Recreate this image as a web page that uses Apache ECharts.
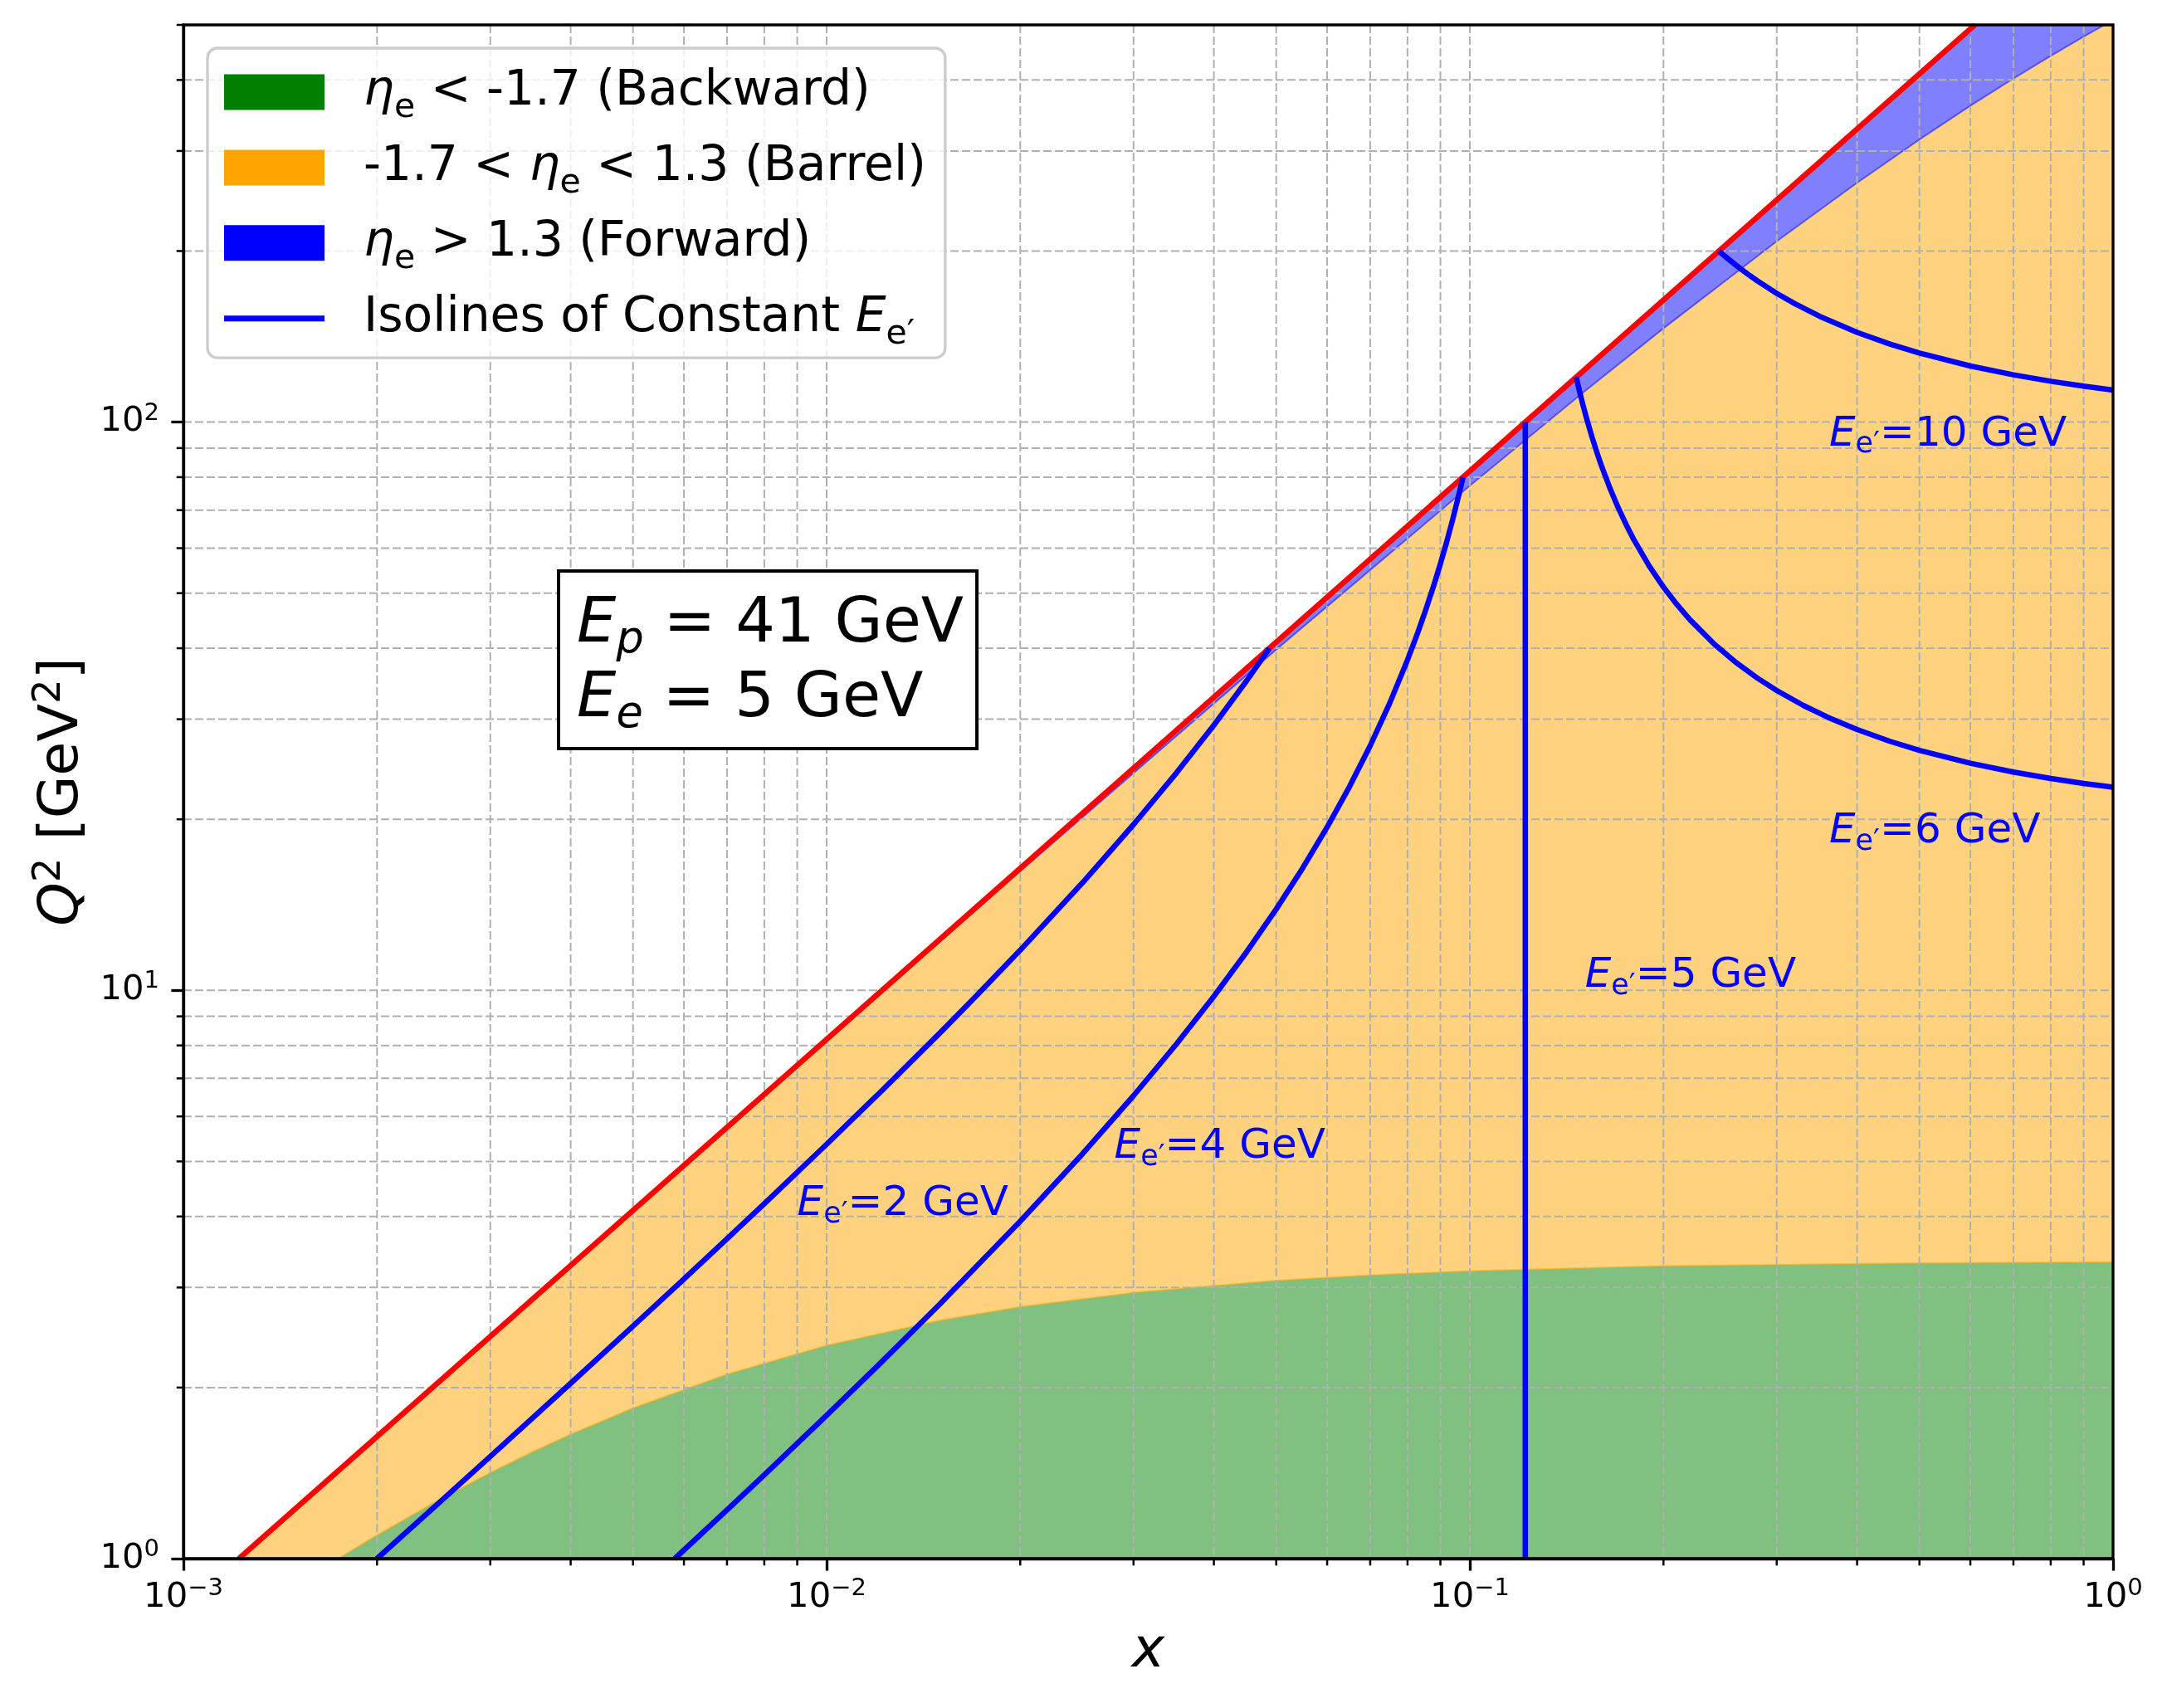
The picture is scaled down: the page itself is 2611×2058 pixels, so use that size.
<!DOCTYPE html>
<html>
<head>
<meta charset="utf-8">
<script src="https://cdn.jsdelivr.net/npm/echarts@6/dist/echarts.min.js"></script>
<style>
html, body { margin: 0; padding: 0; background: #fff; }
#main { width: 2611px; height: 2058px; }
</style>
</head>
<body>
<div id="main"></div>
<script>
var FONT = 'DejaVu Sans';

// axis ranges and tick labels
var xRange = [0.001, 1];
var yRange = [1, 500];
var xTicks = [0.001, 0.01, 0.1, 1];
var xTickLabels = ['−3', '−2', '−1', '0'];
var yTicks = [1, 10, 100];
var yTickLabels = ['0', '1', '2'];

// kinematic limit y = 1 (red line)
var yOneLine = [[0.0012195, 1], [0.60976, 500]];

// eta = -1.7 boundary (backward / barrel)
var etaBackEdge = [[0.001741, 1.0], [0.002, 1.0996], [0.0025, 1.2699], [0.003, 1.4161], [0.0035, 1.543],
  [0.004, 1.6542], [0.005, 1.8398], [0.007, 2.1104], [0.01, 2.372], [0.015, 2.625], [0.02, 2.773],
  [0.03, 2.9386], [0.05, 3.086], [0.07, 3.1538], [0.1, 3.2068], [0.2, 3.2707], [0.5, 3.3103], [1.0, 3.3239]];

// eta = 1.3 boundary (barrel / forward)
var etaFwdEdge = [[0.00122, 1.0], [0.002, 1.638], [0.005, 4.088], [0.01, 8.150], [0.02, 16.20],
  [0.05, 39.79], [0.1, 77.29], [0.15, 112.7], [0.2, 146.2], [0.3, 208.0], [0.4, 263.7],
  [0.5, 314.3], [0.6, 360.3], [0.7, 402.4], [0.8, 441.1], [0.9, 476.7], [0.97, 500]];

// isolines of constant scattered electron energy
var iso2 = [[0.0019992, 1], [0.0025, 1.2557], [0.003, 1.513], [0.004, 2.0347], [0.005, 2.565], [0.006, 3.1048],
  [0.007, 3.654], [0.008, 4.2123], [0.01, 5.360], [0.012, 6.5484], [0.015, 8.415], [0.017, 9.7188],
  [0.02, 11.77], [0.025, 15.47], [0.03, 19.58], [0.035, 24.15], [0.04, 29.29], [0.045, 35.09],
  [0.0475, 38.28], [0.04878, 40.0]];
var iso4 = [[0.005807, 1], [0.007, 1.2179], [0.008, 1.404], [0.01, 1.787], [0.012, 2.1828], [0.015, 2.805],
  [0.02, 3.923], [0.025, 5.157], [0.03, 6.525], [0.035, 8.050], [0.04, 9.762], [0.045, 11.696],
  [0.05, 13.90], [0.055, 16.43], [0.06, 19.37], [0.065, 22.83], [0.07, 26.95], [0.075, 31.95],
  [0.08, 38.14], [0.083, 42.62], [0.085, 46.01], [0.088, 51.84], [0.09, 56.34], [0.092, 61.43],
  [0.094, 67.26], [0.096, 73.98], [0.097, 77.75], [0.09756, 80.0]];
var iso5 = [[0.12195, 1], [0.12195, 100]];
var iso6 = [[0.14634, 120], [0.1465, 119.35], [0.147, 117.37], [0.148, 113.63], [0.149, 110.17],
  [0.15, 106.96], [0.152, 101.17], [0.155, 93.80], [0.158, 87.66], [0.16, 84.10], [0.165, 76.66],
  [0.17, 70.76], [0.175, 65.98], [0.18, 62.02], [0.19, 55.84], [0.2, 51.25], [0.21, 47.70],
  [0.22, 44.88], [0.24, 40.66], [0.26, 37.67], [0.28, 35.43], [0.3, 33.70], [0.33, 31.72],
  [0.36, 30.25], [0.4, 28.77], [0.45, 27.43], [0.5, 26.45], [0.6, 25.10], [0.7, 24.22],
  [0.8, 23.60], [0.9, 23.13], [1.0, 22.78]];
var iso10 = [[0.2439, 200], [0.245, 199.11], [0.25, 195.24], [0.26, 188.34], [0.27, 182.37],
  [0.28, 177.16], [0.3, 168.49], [0.32, 161.58], [0.35, 153.48], [0.4, 143.86], [0.45, 137.17],
  [0.5, 132.26], [0.6, 125.51], [0.7, 121.10], [0.8, 117.99], [0.9, 115.67], [1.0, 113.89]];
var isoLines = [iso2, iso4, iso5, iso6, iso10];

// labels of the isolines (left / middle anchor)
var isoLabelText = ['2', '4', '5', '6', '10'];
var isoLabelPos = [[0.009, 4.2], [0.028, 5.3], [0.151, 10.6], [0.362, 19], [0.362, 95]];

// legend
var regionNames = ['back', 'barrel', 'fwd'];
var isoName = 'iso';
var legendText = {
  back: '{i|η}{s|e}{n| < -1.7 (Backward)}',
  barrel: '{n|-1.7 < }{i|η}{s|e}{n| < 1.3 (Barrel)}',
  fwd: '{i|η}{s|e}{n| > 1.3 (Forward)}',
  iso: '{n|Isolines of Constant }{i|E}{s|e′}'
};
var regionColors = ['green', 'orange', 'blue'];
var regionFills = ['#80c080', '#ffd280', '#8080ff'];

// grid lines at every 1..9 x decade
function gridValues(range) {
  var out = [];
  for (var d = range[0]; d < range[1] * 0.99; d *= 10) {
    for (var m = 1; m <= 9; m++) {
      var v = m * d;
      if (m === 1 && Math.abs(v - range[0]) < 1e-12) continue;
      if (v > range[1] * 1.0001) continue;
      out.push({ v: v, minor: m !== 1 });
    }
  }
  return out;
}
var xGrid = gridValues(xRange);
var yGrid = gridValues(yRange);

function tickFormatter(ticks, labels) {
  return function (val) {
    for (var i = 0; i < ticks.length; i++) {
      if (Math.abs(Math.log10(ticks[i]) - Math.log10(val)) < 1e-6) return '{b|10}{p|' + labels[i] + '}';
    }
    return '';
  };
}
var tickRich = {
  b: { fontSize: 41.7, lineHeight: 50, fontFamily: FONT, color: '#000' },
  p: { fontSize: 29, lineHeight: 29, verticalAlign: 'top', fontFamily: FONT, color: '#000' }
};

function regionSeries(idx, boundary, corners, edgeColor) {
  return {
    name: regionNames[idx],
    type: 'custom',
    z: 1,
    silent: true,
    itemStyle: { color: regionColors[idx] },
    data: [boundary[0]],
    renderItem: function (params, api) {
      var edge = boundary.map(function (p) { return api.coord(p); });
      var poly = edge.concat(corners.map(function (p) { return api.coord(p); }));
      var kids = [{ type: 'polygon', shape: { points: poly }, style: { fill: regionFills[idx] } }];
      if (edgeColor) {
        kids.push({ type: 'polyline', shape: { points: edge }, style: { stroke: edgeColor, lineWidth: 2, fill: 'none' } });
      }
      return { type: 'group', children: kids };
    }
  };
}

var topRight = [xRange[1], yRange[1]];
var bottomRight = [xRange[1], yRange[0]];

var series = [
  regionSeries(2, yOneLine, [topRight, bottomRight], null),
  regionSeries(1, etaFwdEdge, [topRight, bottomRight], 'rgba(0,0,255,0.5)'),
  regionSeries(0, etaBackEdge, [bottomRight], 'rgba(255,165,0,0.5)'),
  {
    // dashed grid (drawn over the filled regions) and minor ticks
    type: 'custom',
    z: 2,
    silent: true,
    data: [[xRange[0], yRange[0]]],
    renderItem: function (params, api) {
      var cs = params.coordSys;
      var bottom = cs.y + cs.height, left = cs.x;
      var gs = { stroke: '#b0b0b0', lineWidth: 2, lineDash: [10, 4] };
      var ts = { stroke: '#000', lineWidth: 2.5 };
      var kids = [];
      xGrid.forEach(function (g) {
        var px = api.coord([g.v, yRange[0]])[0];
        kids.push({ type: 'line', shape: { x1: px, y1: cs.y, x2: px, y2: bottom }, style: gs });
        if (g.minor) kids.push({ type: 'line', shape: { x1: px, y1: bottom, x2: px, y2: bottom + 8.3 }, style: ts });
      });
      yGrid.forEach(function (g) {
        var py = api.coord([xRange[0], g.v])[1];
        kids.push({ type: 'line', shape: { x1: left, y1: py, x2: left + cs.width, y2: py }, style: gs });
        if (g.minor) kids.push({ type: 'line', shape: { x1: left - 8.3, y1: py, x2: left, y2: py }, style: ts });
      });
      return { type: 'group', children: kids };
    }
  },
  {
    name: 'limit',
    type: 'line',
    z: 3,
    silent: true,
    symbol: 'none',
    data: yOneLine,
    lineStyle: { color: 'red', width: 6.5 },
    itemStyle: { color: 'red' }
  }
];

isoLines.forEach(function (d) {
  series.push({
    name: isoName,
    type: 'line',
    z: 3,
    silent: true,
    symbol: 'none',
    data: d,
    lineStyle: { color: 'blue', width: 6.5 },
    itemStyle: { color: 'blue' }
  });
});

series.push({
  type: 'custom',
  z: 4,
  silent: true,
  data: isoLabelPos,
  renderItem: function (params, api) {
    var p = api.coord([api.value(0), api.value(1)]);
    return {
      type: 'text',
      x: p[0],
      y: p[1],
      style: {
        text: '{i|E}{s|e′}{n|=' + isoLabelText[params.dataIndex] + ' GeV}',
        align: 'left',
        verticalAlign: 'middle',
        rich: {
          n: { fill: 'blue', fontSize: 50, fontFamily: FONT, lineHeight: 60 },
          i: { fill: 'blue', fontSize: 50, fontFamily: FONT, fontStyle: 'italic', lineHeight: 60 },
          s: { fill: 'blue', fontSize: 35, fontFamily: FONT, lineHeight: 31, verticalAlign: 'bottom' }
        }
      }
    };
  }
});

var chart = echarts.init(document.getElementById('main'));
chart.setOption({
  animation: false,
  backgroundColor: '#fff',
  grid: {
    left: 221, right: 65, top: 30, bottom: 180,
    show: true, z: 10,
    borderColor: '#000', borderWidth: 3.3,
    backgroundColor: 'transparent'
  },
  legend: {
    orient: 'vertical',
    left: 250, top: 58,
    z: 20,
    padding: [24, 23, 7.5, 20],
    itemWidth: 121, itemHeight: 43, itemGap: 21.9,
    backgroundColor: 'rgba(255,255,255,0.8)',
    borderColor: '#cccccc', borderWidth: 3.3, borderRadius: 12,
    data: [
      { name: 'back', icon: 'rect' },
      { name: 'barrel', icon: 'rect' },
      { name: 'fwd', icon: 'rect' },
      { name: 'iso', icon: 'path://M0,0H120V7H0Z' }
    ],
    formatter: function (name) { return legendText[name]; },
    textStyle: {
      padding: [0, 0, 0, 42],
      rich: {
        n: { fontSize: 58.3, fontFamily: FONT, color: '#000', lineHeight: 80 },
        i: { fontSize: 58.3, fontFamily: FONT, fontStyle: 'italic', color: '#000', lineHeight: 80 },
        s: { fontSize: 41, fontFamily: FONT, color: '#000', lineHeight: 20, verticalAlign: 'bottom' }
      }
    }
  },
  xAxis: {
    type: 'log', logBase: 10, min: xRange[0], max: xRange[1], z: 10,
    axisLine: { show: true, lineStyle: { color: '#000', width: 3.3 } },
    axisTick: { show: true, length: 14.6, customValues: xTicks, lineStyle: { color: '#000', width: 3.3 } },
    axisLabel: { customValues: xTicks, margin: 22, formatter: tickFormatter(xTicks, xTickLabels), rich: tickRich },
    splitLine: { show: false },
    name: 'x', nameLocation: 'middle', nameGap: 73,
    nameTextStyle: { fontSize: 66.7, fontStyle: 'italic', fontFamily: FONT, color: '#000', lineHeight: 80 }
  },
  yAxis: {
    type: 'log', logBase: 10, min: yRange[0], max: yRange[1], z: 10,
    axisLine: { show: true, lineStyle: { color: '#000', width: 3.3 } },
    axisTick: { show: true, length: 14.6, customValues: yTicks, lineStyle: { color: '#000', width: 3.3 } },
    axisLabel: { customValues: yTicks, margin: 29, formatter: tickFormatter(yTicks, yTickLabels), rich: tickRich },
    splitLine: { show: false },
    name: '{i|Q}{p|2}{n| [GeV}{p|2}{n|]}', nameLocation: 'middle', nameGap: 101,
    nameTextStyle: {
      rich: {
        n: { fontSize: 66.7, fontFamily: FONT, color: '#000', lineHeight: 80 },
        i: { fontSize: 66.7, fontFamily: FONT, fontStyle: 'italic', color: '#000', lineHeight: 80 },
        p: { fontSize: 46.7, fontFamily: FONT, color: '#000', lineHeight: 56, verticalAlign: 'top' }
      }
    }
  },
  graphic: [{
    type: 'text',
    left: 671, top: 686, z: 20,
    style: {
      text: '{i|E}{s|p}{n| = 41 GeV}\n{i|E}{s|e}{n| = 5 GeV}',
      backgroundColor: '#fff',
      borderColor: '#000',
      borderWidth: 4,
      padding: [19, 14, 11, 20],
      rich: {
        n: { fill: '#000', fontSize: 75, fontFamily: FONT, lineHeight: 90 },
        i: { fill: '#000', fontSize: 75, fontFamily: FONT, fontStyle: 'italic', lineHeight: 90 },
        s: { fill: '#000', fontSize: 52.5, fontFamily: FONT, fontStyle: 'italic', lineHeight: 20, verticalAlign: 'bottom' }
      }
    }
  }],
  series: series
});
</script>
</body>
</html>
